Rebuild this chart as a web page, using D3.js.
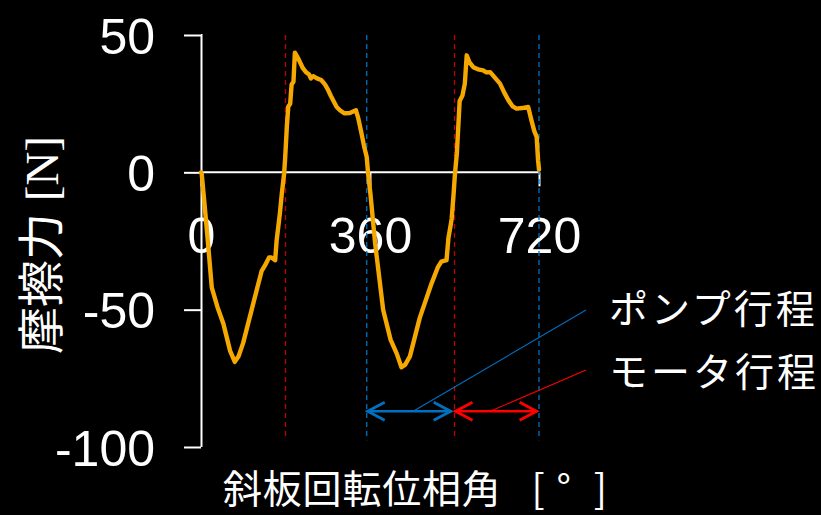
<!DOCTYPE html>
<html>
<head>
<meta charset="utf-8">
<script src="https://cdn.jsdelivr.net/npm/d3@7"></script>
<style>
  html, body { margin: 0; padding: 0; background: #000; }
  svg { display: block; }
</style>
</head>
<body>
<svg id="chart" width="821" height="515"></svg>
<script>
// Swash-plate rotation angle [deg] and measured friction force [N]
const angle = [
  0, 1.5, 12, 23, 35, 47.5, 62, 72, 80, 90, 108, 129, 136, 145, 150, 158, 161, 168, 172, 177,
  179, 183, 186, 190, 193, 197, 200, 207, 217, 224, 230, 234, 239, 247, 256, 264, 271, 277, 289, 296,
  305, 317, 330, 335, 342, 347, 353, 356,
  361, 371, 388, 404, 417, 427, 435, 445, 466, 491, 505, 512, 523, 527, 532, 534, 538, 541,
  545, 551, 557, 562, 566, 572, 580, 590, 601, 608, 616, 626, 637, 646, 655, 664, 672, 684, 697, 701, 704, 710, 715, 718, 720
];
const friction = [
  0, -0.5, -20, -42, -49, -55, -65, -69, -67, -62, -50, -36, -34, -31, -31, -32, -25, -15, -8, -0.5,
  4.4, 17, 24, 25, 32, 33, 43.6, 41.5, 37.9, 36.4, 35.7, 34.2, 35, 34.2, 33.6, 32, 29.9, 27.7, 23.8, 22.6,
  21.5, 21.6, 22.6, 19.7, 14.1, 9.8, 5.6, -0.5,
  -8, -26, -50, -61, -66, -71, -70, -67, -53, -40.5, -34.4, -32.5, -32, -24, -19, -16.9, -8, -0.5,
  6.8, 26, 28, 32.3, 42.6, 40, 38.3, 37.5, 37.1, 36.4, 36.5, 34.5, 32.3, 29, 26.2, 24, 23.2, 23.4, 23.8, 21, 18.9, 15, 12.9, 4.4, 1
];

// Axis ticks
const yTicks = [50, 0, -50, -100];
const xTicks = [0, 360, 720];

// Stroke boundaries [deg]: pump stroke start (blue) and motor stroke start (red)
const motorStarts = [180, 540];
const pumpStarts = [353, 720];

// Stroke spans shown with double arrows
const strokeNames = ["ポンプ行程", "モータ行程"];
const strokeFrom = [353, 540];
const strokeTo = [534, 717];
const strokeLeaderFrom = [452, 616];
const strokeColors = ["#0070C0", "#FF0000"];

const svg = d3.select("#chart");
const x = d3.scaleLinear().domain([0, 720]).range([201, 539]);
const y = d3.scaleLinear().domain([-100, 50]).range([447, 35]);

const numFont = "'Liberation Sans', Arial, sans-serif";
const jpFont = "'Noto Sans CJK JP', sans-serif";
const plain = d => String(d);

// y axis line + ticks
const yAxis = d3.axisLeft(y).tickValues(yTicks).tickSize(16).tickFormat(plain);
const gy = svg.append("g").attr("transform", `translate(${x(0)},0)`).call(yAxis);
gy.select(".domain").attr("stroke", "#fff").attr("stroke-width", 2).attr("d", `M0,${y(50)}H0.5V${y(-100)}`);
gy.selectAll(".tick line").attr("stroke", "#fff").attr("stroke-width", 2).attr("x2", -17);
gy.selectAll(".tick text")
  .attr("fill", "#fff").attr("font-family", numFont).attr("font-size", 50)
  .attr("x", -46).attr("dy", "0.36em");

// x axis along zero line
const xAxis = d3.axisBottom(x).tickValues(xTicks).tickSize(14).tickFormat(plain);
const gx = svg.append("g").attr("transform", `translate(0,${y(0)})`).call(xAxis);
gx.select(".domain").attr("stroke", "#fff").attr("stroke-width", 2).attr("d", `M${x(0)},0H${x(720)}`);
gx.selectAll(".tick line").attr("stroke", "#fff").attr("stroke-width", 2);
gx.selectAll(".tick text")
  .attr("fill", "#fff").attr("font-family", numFont).attr("font-size", 50)
  .attr("y", 81).attr("dy", 0);

// stroke boundary dashed lines
const vTop = y(50), vBot = y(-97.5);
svg.append("g").selectAll("line").data(motorStarts).join("line")
  .attr("x1", d => x(d)).attr("x2", d => x(d)).attr("y1", vTop).attr("y2", vBot)
  .attr("stroke", "#C00000").attr("stroke-width", 1.3).attr("stroke-dasharray", "5,4");
svg.append("g").selectAll("line").data(pumpStarts).join("line")
  .attr("x1", d => x(d)).attr("x2", d => x(d)).attr("y1", vTop).attr("y2", vBot)
  .attr("stroke", "#0070C0").attr("stroke-width", 1.3).attr("stroke-dasharray", "5,4");

// friction curve
const pts = angle.map((a, i) => [a, friction[i]]);
svg.append("path")
  .datum(pts)
  .attr("fill", "none")
  .attr("stroke", "#F5A800")
  .attr("stroke-width", 4.4)
  .attr("stroke-linejoin", "round")
  .attr("stroke-linecap", "round")
  .attr("d", d3.line().x(d => x(d[0])).y(d => y(d[1])));

// double arrows, leader lines and labels
const arrowY = y(-87);
const labelX = 609;
const labelY = [309, 372];
const leaderEnd = [310, 370];
strokeNames.forEach((name, i) => {
  const g = svg.append("g");
  const c = strokeColors[i];
  const x1 = x(strokeFrom[i]), x2 = x(strokeTo[i]);
  g.append("line").attr("x1", x1).attr("x2", x2).attr("y1", arrowY).attr("y2", arrowY)
    .attr("stroke", c).attr("stroke-width", 2.5);
  g.append("path")
    .attr("d", `M${x1 + 18},${arrowY - 9}L${x1 + 1},${arrowY}L${x1 + 18},${arrowY + 9}` +
               `M${x2 - 18},${arrowY - 9}L${x2 - 1},${arrowY}L${x2 - 18},${arrowY + 9}`)
    .attr("fill", "none").attr("stroke", c).attr("stroke-width", 2.8).attr("stroke-linejoin", "miter");
  g.append("line")
    .attr("x1", x(strokeLeaderFrom[i])).attr("y1", arrowY)
    .attr("x2", 586).attr("y2", leaderEnd[i])
    .attr("stroke", c).attr("stroke-width", 1.1);
  g.append("text")
    .attr("x", labelX).attr("y", labelY[i]).attr("dy", "0.36em")
    .attr("fill", "#fff").attr("font-family", jpFont).attr("font-size", 39)
    .attr("letter-spacing", 3)
    .text(name);
});

// axis titles
const xt = svg.append("text")
  .attr("x", 223).attr("y", 503)
  .attr("fill", "#fff").attr("font-family", jpFont).attr("font-size", 39)
  .attr("letter-spacing", 0.8);
xt.append("tspan").text("斜板回転位相角");
xt.append("tspan").attr("dx", 30).text("[");
xt.append("tspan").attr("dx", 11).text("°");
xt.append("tspan").attr("dx", 22).text("]");

const yt = svg.append("text")
  .attr("transform", "translate(58,245) rotate(-90)")
  .attr("text-anchor", "middle")
  .attr("fill", "#fff").attr("font-size", 47);
yt.append("tspan").attr("font-family", jpFont).text("摩擦力");
yt.append("tspan").attr("font-family", "'Liberation Serif', serif").text(" [N]");
</script>
</body>
</html>
